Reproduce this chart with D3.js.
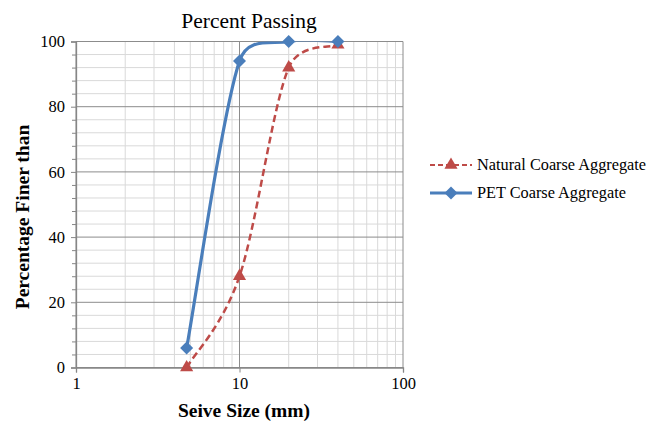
<!DOCTYPE html>
<html><head><meta charset="utf-8">
<script src="https://cdn.jsdelivr.net/npm/d3@7"></script>
<style>body{margin:0;background:#fff}</style>
</head><body><svg id="c" width="660" height="425" font-family="'Liberation Serif', 'Times New Roman', serif"></svg>
<script>
const sieveSizes = [4.75, 10, 20, 40];
const naturalPassing = [0, 28, 92, 99];
const petPassing = [6, 94, 100, 100];
const seriesNames = ["Natural Coarse Aggregate", "PET Coarse Aggregate"];
const xTickValues = [1, 10, 100];
const yTickValues = [0, 20, 40, 60, 80, 100];

const FONT = "'Liberation Serif', 'Times New Roman', serif";
const svg = d3.select("#c");
const L = 76, R = 403, T = 41.5, B = 367.5;
const x = d3.scaleLog().domain([1, 100]).range([L, R]);
const y = d3.scaleLinear().domain([0, 100]).range([B, T]);

// minor grid
const minorX = [];
for (let d = 1; d <= 10; d *= 10) for (let k = 2; k <= 9; k++) minorX.push(d * k);
const minorY = d3.range(0, 101, 4).filter(v => v % 20 !== 0);
const g = svg.append("g");
g.selectAll(".mx").data(minorX).join("line")
  .attr("x1", d => x(d)).attr("x2", d => x(d)).attr("y1", T).attr("y2", B)
  .attr("stroke", "#d9d9d9").attr("stroke-width", 1);
g.selectAll(".my").data(minorY).join("line")
  .attr("x1", L).attr("x2", R).attr("y1", d => y(d)).attr("y2", d => y(d))
  .attr("stroke", "#d9d9d9").attr("stroke-width", 1);
g.selectAll(".Mx").data(xTickValues).join("line")
  .attr("x1", d => x(d)).attr("x2", d => x(d)).attr("y1", T).attr("y2", B)
  .attr("stroke", "#8c8c8c").attr("stroke-width", 1);
g.selectAll(".My").data(yTickValues).join("line")
  .attr("x1", L).attr("x2", R).attr("y1", d => y(d)).attr("y2", d => y(d))
  .attr("stroke", "#8c8c8c").attr("stroke-width", 1);

// axes
const yAxis = svg.append("g").attr("transform", `translate(${L},0)`)
  .call(d3.axisLeft(y).tickValues(yTickValues).tickSize(5).tickPadding(6));
const yMinor = svg.append("g").attr("transform", `translate(${L},0)`)
  .call(d3.axisLeft(y).tickValues(minorY).tickSize(4).tickFormat(""));
const xAxis = svg.append("g").attr("transform", `translate(0,${B})`)
  .call(d3.axisBottom(x).tickValues(xTickValues).tickFormat(d3.format("d")).tickSize(5).tickPadding(5));
[yAxis, yMinor, xAxis].forEach(a => {
  a.attr("font-family", FONT);
  a.select(".domain").attr("stroke", "#868686").attr("stroke-width", 1.3);
  a.selectAll(".tick line").attr("stroke", "#868686");
  a.selectAll("text").attr("font-family", FONT).attr("font-size", 16.5).attr("fill", "#000");
});
yMinor.select(".domain").remove();

// clip
svg.append("clipPath").attr("id", "pc").append("rect")
  .attr("x", L).attr("y", T).attr("width", R - L).attr("height", B - T);

// Excel-style smoothed Bezier through pixel points from the scales
function excelSmooth(data) {
  const p = data.map(d => [x(d[0]), y(d[1])]);
  const dist = (a, b) => Math.hypot(a[0] - b[0], a[1] - b[1]);
  let s = `M${p[0][0]},${p[0][1]}`;
  for (let i = 0; i < p.length - 1; i++) {
    const p0 = p[Math.max(0, i - 1)], p1 = p[i], p2 = p[i + 1], p3 = p[Math.min(p.length - 1, i + 2)];
    const d12 = dist(p1, p2), d02 = dist(p0, p2), d13 = dist(p1, p3);
    const f0 = (d02 / 6 < d12 / 2) ? 1 / 6 : d12 / d02 / 2;
    const f1 = (d13 / 6 < d12 / 2) ? 1 / 6 : d12 / d13 / 2;
    const c1 = [p1[0] + (p2[0] - p0[0]) * f0, p1[1] + (p2[1] - p0[1]) * f0];
    const c2 = [p2[0] - (p3[0] - p1[0]) * f1, p2[1] - (p3[1] - p1[1]) * f1];
    s += `C${c1[0]},${c1[1]} ${c2[0]},${c2[1]} ${p2[0]},${p2[1]}`;
  }
  return s;
}
const natData = sieveSizes.map((s, i) => [s, naturalPassing[i]]);
const petData = sieveSizes.map((s, i) => [s, petPassing[i]]);
const red = "#BE4B48", blue = "#4A7EBB";

svg.append("path").datum(natData).attr("d", excelSmooth).attr("clip-path", "url(#pc)")
  .attr("fill", "none").attr("stroke", red).attr("stroke-width", 2.5).attr("stroke-dasharray", "7,4");
svg.append("path").datum(petData).attr("d", excelSmooth).attr("clip-path", "url(#pc)")
  .attr("fill", "none").attr("stroke", blue).attr("stroke-width", 3.2);

const tri = d3.symbol().type(d3.symbolTriangle).size(75);
const dia = d3.symbol().type(d3.symbolSquare).size(85);
svg.selectAll(".nm").data(natData).join("path")
  .attr("d", tri).attr("transform", d => `translate(${x(d[0])},${y(d[1])})`).attr("fill", red);
svg.selectAll(".pm").data(petData).join("path")
  .attr("d", dia).attr("transform", d => `translate(${x(d[0])},${y(d[1])}) rotate(45)`).attr("fill", blue);

// title & axis titles
svg.append("text").attr("x", 249).attr("y", 28).attr("text-anchor", "middle")
  .attr("font-family", FONT).attr("font-size", 21.5).text("Percent Passing");
svg.append("text").attr("x", 244).attr("y", 417).attr("text-anchor", "middle")
  .attr("font-family", FONT).attr("font-size", 19.5).attr("font-weight", "bold").text("Seive Size (mm)");
svg.append("text").attr("transform", "translate(29,217) rotate(-90)").attr("text-anchor", "middle")
  .attr("font-family", FONT).attr("font-size", 19.5).attr("font-weight", "bold").text("Percentage Finer than");

// legend
const leg = svg.append("g");
const rows = [
  {name: seriesNames[0], color: red, dash: "5,3", w: 2.2, sym: tri, rot: 0},
  {name: seriesNames[1], color: blue, dash: null, w: 3.2, sym: dia, rot: 45}
];
rows.forEach((r, i) => {
  const yy = 165 + i * 28;
  leg.append("line").attr("x1", 430).attr("x2", 472).attr("y1", yy).attr("y2", yy)
    .attr("stroke", r.color).attr("stroke-width", r.w).attr("stroke-dasharray", r.dash);
  leg.append("path").attr("d", r.sym).attr("transform", `translate(451,${yy}) rotate(${r.rot})`).attr("fill", r.color);
  leg.append("text").attr("x", 477).attr("y", yy + 5).attr("font-family", FONT).attr("font-size", 16.3).text(r.name);
});
</script></body></html>
